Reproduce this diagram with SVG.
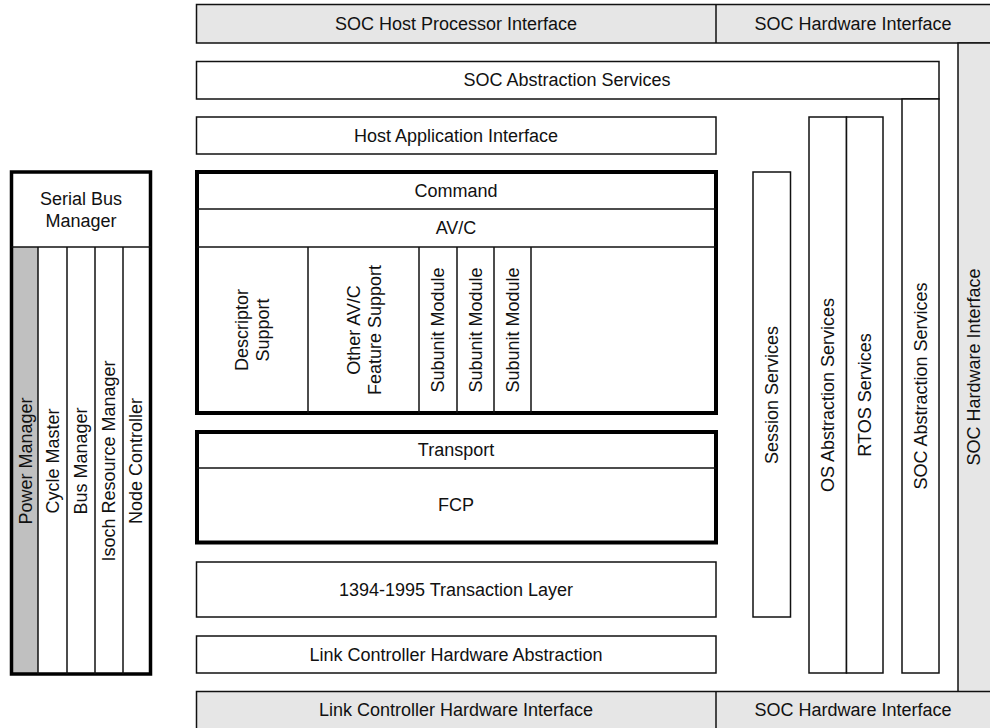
<svg xmlns="http://www.w3.org/2000/svg" width="990" height="728" viewBox="0 0 990 728">
<style>
.b{fill:#fff;stroke:#111;stroke-width:1.5}
.g{fill:#e6e6e6;stroke:#111;stroke-width:1.5}
.k{fill:#fff;stroke:#000;stroke-width:4}
.l{stroke:#111;stroke-width:1.5;fill:none}
text{font-family:"Liberation Sans",Arial,sans-serif;font-size:18px;fill:#111;text-anchor:middle}
</style>
<rect width="990" height="728" fill="#fff"/>
<g id="top-bar">
<rect class="g" x="196.5" y="4.5" width="800" height="38.5"/>
<line class="l" x1="716" y1="4.5" x2="716" y2="43"/>
<text x="456" y="30">SOC Host Processor Interface</text>
<text x="853" y="30">SOC Hardware Interface</text>
</g>
<g id="soc-hw-vertical">
<rect class="g" x="958" y="43" width="40" height="649"/>
<text transform="translate(974,367) rotate(-90)" dy="6.3">SOC Hardware Interface</text>
</g>
<g id="soc-abstraction">
<rect class="b" x="196.5" y="61.5" width="742.5" height="37.5"/>
<text x="567" y="86">SOC Abstraction Services</text>
<rect class="b" x="902" y="99" width="37" height="574"/>
<text transform="translate(920.5,386) rotate(-90)" dy="6.3">SOC Abstraction Services</text>
</g>
<g id="host-app">
<rect class="b" x="196.5" y="117" width="519.5" height="37"/>
<text x="456" y="142">Host Application Interface</text>
</g>
<g id="avc">
<rect class="k" x="197" y="172" width="519" height="241"/>
<line class="l" x1="197" y1="209" x2="716" y2="209"/>
<line class="l" x1="197" y1="247" x2="716" y2="247"/>
<line class="l" x1="308" y1="247" x2="308" y2="413"/>
<line class="l" x1="419" y1="247" x2="419" y2="413"/>
<line class="l" x1="457" y1="247" x2="457" y2="413"/>
<line class="l" x1="494" y1="247" x2="494" y2="413"/>
<line class="l" x1="531" y1="247" x2="531" y2="413"/>
<text x="456" y="197">Command</text>
<text x="456" y="234">AV/C</text>
<text transform="translate(252,330) rotate(-90)"><tspan x="0" y="-4">Descriptor</tspan><tspan x="0" y="17">Support</tspan></text>
<text transform="translate(363.5,330) rotate(-90)"><tspan x="0" y="-4">Other AV/C</tspan><tspan x="0" y="17">Feature Support</tspan></text>
<text transform="translate(438,330) rotate(-90)" dy="6.3">Subunit Module</text>
<text transform="translate(475.5,330) rotate(-90)" dy="6.3">Subunit Module</text>
<text transform="translate(512.5,330) rotate(-90)" dy="6.3">Subunit Module</text>
</g>
<g id="transport">
<rect class="k" x="197" y="432" width="519" height="110.5"/>
<line class="l" x1="197" y1="468" x2="716" y2="468"/>
<text x="456" y="456">Transport</text>
<text x="456" y="511">FCP</text>
</g>
<g id="transaction-layer">
<rect class="b" x="196.5" y="562" width="519.5" height="55"/>
<text x="456" y="596">1394-1995 Transaction Layer</text>
</g>
<g id="link-abstraction">
<rect class="b" x="196.5" y="636" width="519.5" height="37"/>
<text x="456" y="661">Link Controller Hardware Abstraction</text>
</g>
<g id="bottom-bar">
<rect class="g" x="196.5" y="691.5" width="800" height="40"/>
<line class="l" x1="716" y1="691.5" x2="716" y2="728"/>
<text x="456" y="716">Link Controller Hardware Interface</text>
<text x="853" y="716">SOC Hardware Interface</text>
</g>
<g id="session">
<rect class="b" x="753" y="172" width="37.5" height="445"/>
<text transform="translate(771.5,395) rotate(-90)" dy="6.3">Session Services</text>
</g>
<g id="os-abstraction">
<rect class="b" x="809" y="117" width="37.5" height="556"/>
<text transform="translate(828,395) rotate(-90)" dy="6.3">OS Abstraction Services</text>
</g>
<g id="rtos">
<rect class="b" x="846.5" y="117" width="36.5" height="556"/>
<text transform="translate(865,395) rotate(-90)" dy="6.3">RTOS Services</text>
</g>
<g id="serial-bus-manager">
<rect x="13" y="247" width="25" height="426" fill="#c0c0c0"/>
<rect x="11.5" y="172" width="139" height="502" fill="none" stroke="#000" stroke-width="3.5"/>
<line class="l" x1="11.5" y1="247" x2="150.5" y2="247"/>
<line class="l" x1="38" y1="247" x2="38" y2="674"/>
<line class="l" x1="67" y1="247" x2="67" y2="674"/>
<line class="l" x1="95" y1="247" x2="95" y2="674"/>
<line class="l" x1="123" y1="247" x2="123" y2="674"/>
<text x="81" y="205">Serial Bus</text>
<text x="81" y="227">Manager</text>
<text transform="translate(25.5,461) rotate(-90)" dy="6.3">Power Manager</text>
<text transform="translate(52.5,461) rotate(-90)" dy="6.3">Cycle Master</text>
<text transform="translate(81,461) rotate(-90)" dy="6.3">Bus Manager</text>
<text transform="translate(109,461) rotate(-90)" dy="6.3">Isoch Resource Manager</text>
<text transform="translate(136,461) rotate(-90)" dy="6.3">Node Controller</text>
</g>
<g id="connectors"></g>
</svg>
